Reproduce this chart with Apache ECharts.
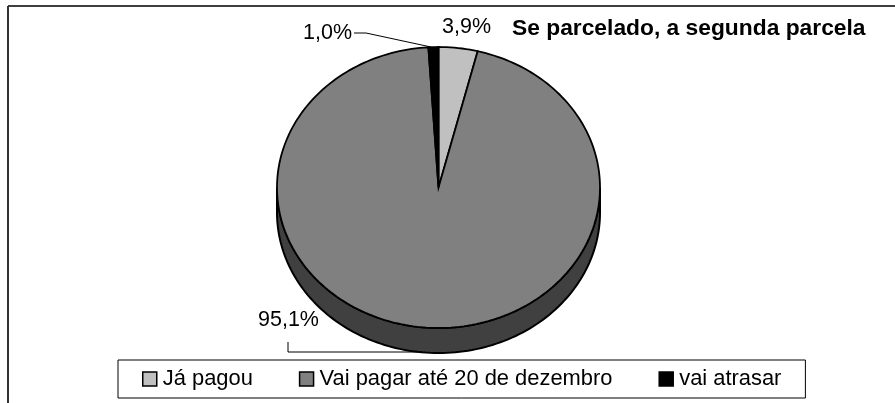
<!DOCTYPE html>
<html>
<head>
<meta charset="utf-8">
<style>
  html, body { margin: 0; padding: 0; background: #fff; }
  #chart { width: 895px; height: 403px; }
</style>
<script src="https://cdn.jsdelivr.net/npm/echarts@6/dist/echarts.min.js"></script>
</head>
<body>
<div id="chart"></div>
<script>
const categories = ['Já pagou', 'Vai pagar até 20 de dezembro', 'vai atrasar'];
const values = [3.9, 95.1, 1.0];
const colors = ['#c0c0c0', '#808080', '#000000'];
const chartTitle = 'Se parcelado, a segunda parcela';

// elipse do "3D"
const cx = 438.5, cy = 187.5, rx = 161.5, ry = 140.5, depth = 25;
const fontName = '"Liberation Sans", Arial, sans-serif';

// rotulos e linhas de ligacao
const labelPos = [
  { x: 442, y: 27, line: null },
  { x: 258, y: 320, line: [[288, 342], [288, 352], [423, 352]] },
  { x: 303, y: 33, line: [[354, 33], [366, 33], [431, 47]] }
];

const total = values.reduce((a, b) => a + b, 0);
let acc = 0;
const ranges = values.map((v) => {
  const r = [acc / total, (acc + v) / total];
  acc += v;
  return r;
});

function pt(t, dy) {
  const a = t * Math.PI * 2;
  return [cx + rx * Math.sin(a), cy + ry * -Math.cos(a) + (dy || 0)];
}

function arc(t0, t1, dy) {
  const n = Math.max(2, Math.ceil((t1 - t0) * 240));
  const pts = [];
  for (let i = 0; i <= n; i++) pts.push(pt(t0 + (t1 - t0) * i / n, dy));
  return pts;
}

function renderSlice(idx) {
  return function (params, api) {
    const t0 = api.value(0), t1 = api.value(1);
    const children = [];
    // lateral: so a metade da frente aparece
    const s0 = Math.max(t0, 0.25), s1 = Math.min(t1, 0.75);
    if (s1 > s0) {
      children.push({
        type: 'polygon',
        shape: { points: arc(s0, s1, depth).concat(arc(s0, s1, 0).reverse()) },
        style: { fill: '#404040', stroke: '#000', lineWidth: 2 }
      });
    }
    children.push({
      type: 'polygon',
      shape: { points: [[cx, cy]].concat(arc(t0, t1, 0)) },
      style: { fill: colors[idx], stroke: '#000', lineWidth: 1.8 }
    });
    const lp = labelPos[idx];
    if (lp.line) {
      children.push({
        type: 'polyline',
        shape: { points: lp.line },
        style: { fill: 'none', stroke: '#000', lineWidth: 1 }
      });
    }
    children.push({
      type: 'text',
      style: {
        x: lp.x, y: lp.y,
        text: values[idx].toFixed(1).replace('.', ',') + '%',
        font: '21.5px ' + fontName,
        fill: '#000',
        verticalAlign: 'middle'
      }
    });
    return { type: 'group', children: children };
  };
}

const myChart = echarts.init(document.getElementById('chart'), null, { renderer: 'canvas' });
myChart.setOption({
  animation: false,
  backgroundColor: '#fff',
  title: {
    text: chartTitle,
    left: 512,
    top: 17,
    padding: 0,
    textStyle: { fontFamily: fontName, fontSize: 22.8, fontWeight: 'bold', color: '#000' }
  },
  legend: {
    left: 118,
    top: 360,
    padding: [8, 24, 8, 24],
    itemGap: 46,
    itemWidth: 14,
    itemHeight: 14,
    icon: 'rect',
    borderColor: '#000',
    borderWidth: 1,
    itemStyle: { borderColor: '#000', borderWidth: 1.5 },
    textStyle: { fontFamily: fontName, fontSize: 21.9, color: '#000', padding: [0, 0, 0, 1] },
    data: categories
  },
  graphic: [
    // moldura (sem lado direito nem baixo)
    { type: 'line', shape: { x1: 8, y1: 6, x2: 895, y2: 6 }, style: { stroke: '#000', lineWidth: 1.5 } },
    { type: 'line', shape: { x1: 8, y1: 6, x2: 8, y2: 403 }, style: { stroke: '#333', lineWidth: 2 } }
  ],
  series: categories.map((name, i) => ({
    name: name,
    type: 'custom',
    coordinateSystem: 'none',
    itemStyle: { color: colors[i] },
    renderItem: renderSlice(i),
    data: [ranges[i]]
  }))
});
</script>
</body>
</html>
